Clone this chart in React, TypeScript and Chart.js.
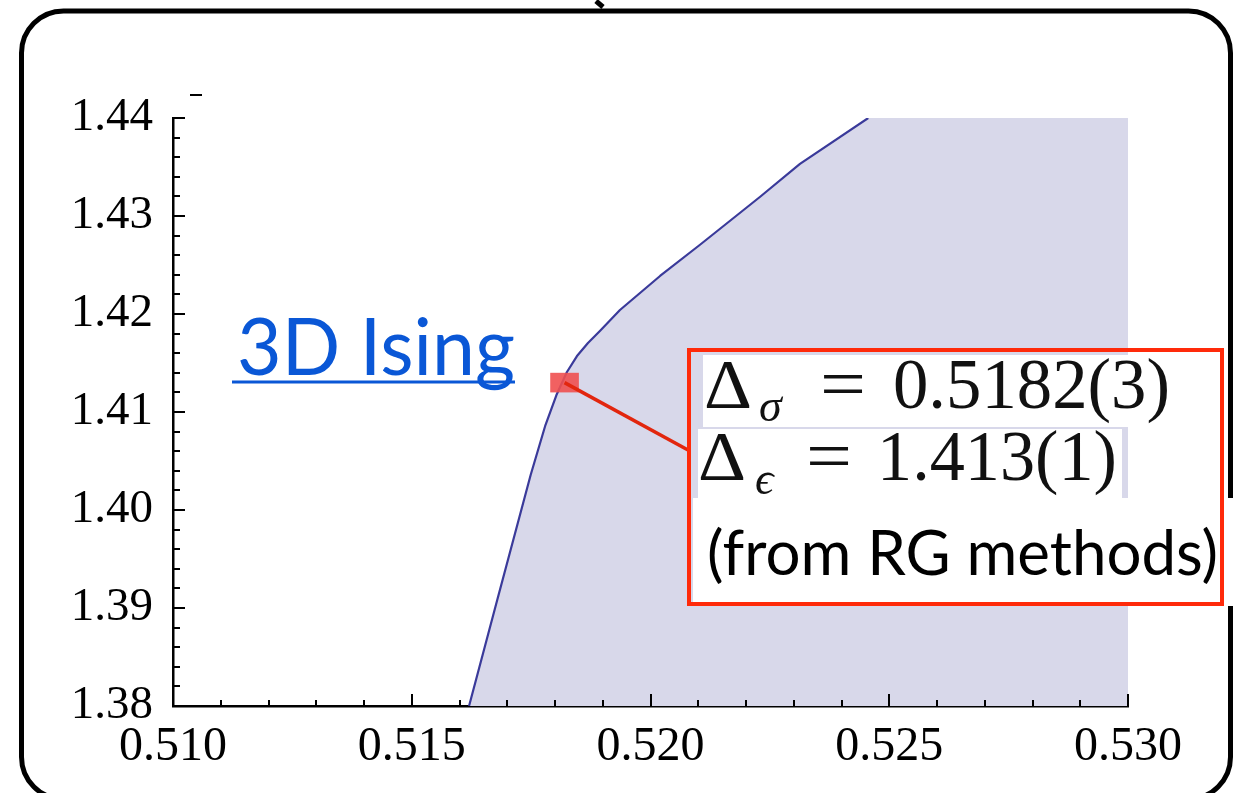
import React, { useEffect, useRef } from 'react';
import { Chart, registerables } from 'chart.js';

Chart.register(...registerables);

// Axis ranges and tick spacing
const X_MIN = 0.51;
const X_MAX = 0.53;
const X_STEP = 0.005;
const X_MINOR = 0.001;
const Y_MIN = 1.38;
const Y_MAX = 1.44;
const Y_STEP = 0.01;
const Y_MINOR = 0.002;

// Boundary of the allowed region (Delta_sigma, Delta_epsilon)
const BOUNDARY_DELTA_SIGMA = [0.5162, 0.51679, 0.51749, 0.51780, 0.51803, 0.51825, 0.51846, 0.51869, 0.51894, 0.51936, 0.52020, 0.52103, 0.52229, 0.52313, 0.52456];
const BOUNDARY_DELTA_EPS = [1.38, 1.39082, 1.40357, 1.40867, 1.41173, 1.41408, 1.41571, 1.41704, 1.41827, 1.42041, 1.42388, 1.42704, 1.43194, 1.43531, 1.44];
// upper-right corner closing the shaded region
const REGION_CORNER_X = [0.53];
const REGION_CORNER_Y = [1.44];

// 3D Ising point with errors
const ISING_SIGMA = [0.5182, 0.0003];
const ISING_EPS = [1.413, 0.001];

// Texts
const LABEL_MODEL = '3D Ising';
const LINE_SIGMA = ['Δ', 'σ', '=', '0.5182(3)'];
const LINE_EPS = ['Δ', 'ϵ', '=', '1.413(1)'];
const LABEL_SOURCE = '(from RG methods)';

const SERIF = "'Liberation Serif', 'DejaVu Serif', serif";
const SANS = "Lato, 'Open Sans', sans-serif";

// draw text at a given font size, squeezed/stretched horizontally to a given width
function drawFitted(ctx: CanvasRenderingContext2D, text: string, font: string, x: number, y: number, width: number) {
  ctx.font = font;
  const w = ctx.measureText(text).width;
  ctx.save();
  ctx.translate(x, y);
  ctx.scale(width / w, 1);
  ctx.fillText(text, 0, 0);
  ctx.restore();
}

const decorPlugin = {
  id: 'decor',
  afterDatasetsDraw(chart: any) {
    const ctx: CanvasRenderingContext2D = chart.ctx;
    const xs = chart.scales.x;
    const ys = chart.scales.y;
    ctx.save();
    // inward ticks
    ctx.strokeStyle = '#000';
    ctx.lineWidth = 2;
    const bottom = Math.round(ys.getPixelForValue(Y_MIN));
    const left = Math.round(xs.getPixelForValue(X_MIN));
    const nX = Math.round((X_MAX - X_MIN) / X_MINOR);
    for (let i = 1; i <= nX; i++) {
      const px = Math.round(xs.getPixelForValue(X_MIN + i * X_MINOR));
      const major = i % Math.round(X_STEP / X_MINOR) === 0;
      ctx.beginPath();
      ctx.moveTo(px, bottom);
      ctx.lineTo(px, bottom - (major ? 12 : 6));
      ctx.stroke();
    }
    const nY = Math.round((Y_MAX - Y_MIN) / Y_MINOR);
    for (let i = 1; i <= nY; i++) {
      const py = Math.round(ys.getPixelForValue(Y_MIN + i * Y_MINOR));
      const major = i % Math.round(Y_STEP / Y_MINOR) === 0;
      ctx.beginPath();
      ctx.moveTo(left, py);
      ctx.lineTo(left + (major ? 12 : 7), py);
      ctx.stroke();
    }
    // Ising error rectangle
    const x0 = xs.getPixelForValue(ISING_SIGMA[0] - ISING_SIGMA[1]);
    const x1 = xs.getPixelForValue(ISING_SIGMA[0] + ISING_SIGMA[1]);
    const y0 = ys.getPixelForValue(ISING_EPS[0] + ISING_EPS[1]);
    const y1 = ys.getPixelForValue(ISING_EPS[0] - ISING_EPS[1]);
    ctx.fillStyle = 'rgba(240, 80, 80, 0.9)';
    ctx.fillRect(x0, y0, x1 - x0, y1 - y0);
    const cx = xs.getPixelForValue(ISING_SIGMA[0]);
    const cy = ys.getPixelForValue(ISING_EPS[0]);
    ctx.strokeStyle = '#E2260E';
    ctx.lineWidth = 3.5;
    ctx.beginPath();
    ctx.moveTo(cx, cy);
    ctx.lineTo(688, 450);
    ctx.stroke();
    ctx.restore();
  },
  afterDraw(chart: any) {
    const ctx: CanvasRenderingContext2D = chart.ctx;
    ctx.save();
    // outer rounded frame
    const fl = 21.5, ft = 11, fr = 1230.5, fb = 799, rad = 42;
    ctx.strokeStyle = '#000';
    ctx.lineWidth = 5;
    ctx.beginPath();
    ctx.moveTo(fl + rad, ft);
    ctx.arcTo(fr, ft, fr, fb, rad);
    ctx.arcTo(fr, fb, fl, fb, rad);
    ctx.arcTo(fl, fb, fl, ft, rad);
    ctx.arcTo(fl, ft, fr, ft, rad);
    ctx.closePath();
    ctx.stroke();
    // small cut-off fragments
    ctx.lineWidth = 2;
    ctx.beginPath();
    ctx.moveTo(190, 95);
    ctx.lineTo(202, 95);
    ctx.stroke();
    ctx.lineWidth = 5;
    ctx.beginPath();
    ctx.moveTo(596, 1);
    ctx.lineTo(603, 7);
    ctx.stroke();

    // white backgrounds of the annotation pieces
    ctx.fillStyle = '#fff';
    ctx.fillRect(703, 355, 469, 72);
    ctx.fillRect(698, 429, 424, 69);
    ctx.fillRect(693, 498, 542, 108);

    // red box
    ctx.strokeStyle = '#FF2A0A';
    ctx.lineWidth = 4;
    ctx.strokeRect(689, 350, 533, 254);

    // formula lines
    ctx.fillStyle = '#111';
    ctx.textBaseline = 'alphabetic';
    ctx.textAlign = 'left';
    const drawLine = (parts: string[], xD: number, xSub: number, xEq: number, xNum: number, numW: number, base: number, subBase: number) => {
      drawFitted(ctx, parts[0], `70px ${SERIF}`, xD, base, 48);
      ctx.font = `italic 46px ${SERIF}`;
      ctx.fillText(parts[1], xSub, subBase);
      drawFitted(ctx, parts[2], `72px ${SERIF}`, xEq, base, 46);
      drawFitted(ctx, parts[3], `72px ${SERIF}`, xNum, base, numW);
    };
    drawLine(LINE_SIGMA, 704, 759, 820, 893, 277, 408, 421);
    drawLine(LINE_EPS, 698, 755, 806, 877, 240, 480, 494);

    // source text
    ctx.fillStyle = '#000';
    drawFitted(ctx, LABEL_SOURCE, `62px ${SANS}`, 707, 575, 511);

    // model label
    ctx.fillStyle = '#0A57D6';
    drawFitted(ctx, LABEL_MODEL, `80px ${SANS}`, 237, 375, 278);
    ctx.strokeStyle = '#0A57D6';
    ctx.lineWidth = 3;
    ctx.beginPath();
    ctx.moveTo(232, 382);
    ctx.lineTo(515, 382);
    ctx.stroke();
    ctx.restore();
  },
};

export default function App() {
  const ref = useRef<HTMLCanvasElement | null>(null);
  useEffect(() => {
    if (!ref.current) return;
    const boundary = BOUNDARY_DELTA_SIGMA.map((x, i) => ({ x, y: BOUNDARY_DELTA_EPS[i] }));
    const region = boundary.concat(REGION_CORNER_X.map((x, i) => ({ x, y: REGION_CORNER_Y[i] })));
    const chart = new Chart(ref.current, {
      type: 'line',
      data: {
        datasets: [
          {
            label: 'allowed',
            data: region,
            order: 2,
            fill: { value: Y_MIN },
            backgroundColor: '#D8D8EA',
            borderWidth: 0,
            borderColor: 'rgba(0,0,0,0)',
            pointRadius: 0,
            tension: 0,
          },
          {
            label: 'boundary',
            data: boundary,
            order: 1,
            fill: false,
            borderColor: '#3A3A9A',
            borderWidth: 2.2,
            pointRadius: 0,
            tension: 0,
            borderJoinStyle: 'round',
          },
        ],
      },
      options: {
        animation: false,
        responsive: false,
        devicePixelRatio: 1,
        layout: { padding: { left: 0, right: 119, top: 118, bottom: 0 } },
        plugins: { legend: { display: false }, tooltip: { enabled: false } },
        scales: {
          x: {
            type: 'linear',
            min: X_MIN,
            max: X_MAX,
            grid: { display: false },
            border: { display: true, color: '#000', width: 2.5 },
            afterFit: (s: any) => { s.height = 87; },
            ticks: {
              stepSize: X_STEP,
              autoSkip: false,
              maxRotation: 0,
              padding: 5,
              color: '#000',
              font: { family: SERIF, size: 48 },
              callback: (v: any) => Number(v).toFixed(3),
            },
          },
          y: {
            type: 'linear',
            min: Y_MIN,
            max: Y_MAX,
            grid: { display: false },
            border: { display: true, color: '#000', width: 2.5 },
            afterFit: (s: any) => { s.width = 173; },
            ticks: {
              stepSize: Y_STEP,
              autoSkip: false,
              padding: 12,
              color: '#000',
              font: { family: SERIF, size: 47 },
              callback: (v: any) => Number(v).toFixed(2),
            },
          },
        },
      },
      plugins: [decorPlugin],
    });
    return () => chart.destroy();
  }, []);
  return (
    <div style={{ position: 'fixed', left: 0, top: 0, width: 1247, height: 793, background: '#fff' }}>
      <canvas ref={ref} width={1247} height={793} style={{ display: 'block', width: 1247, height: 793 }} />
    </div>
  );
}
